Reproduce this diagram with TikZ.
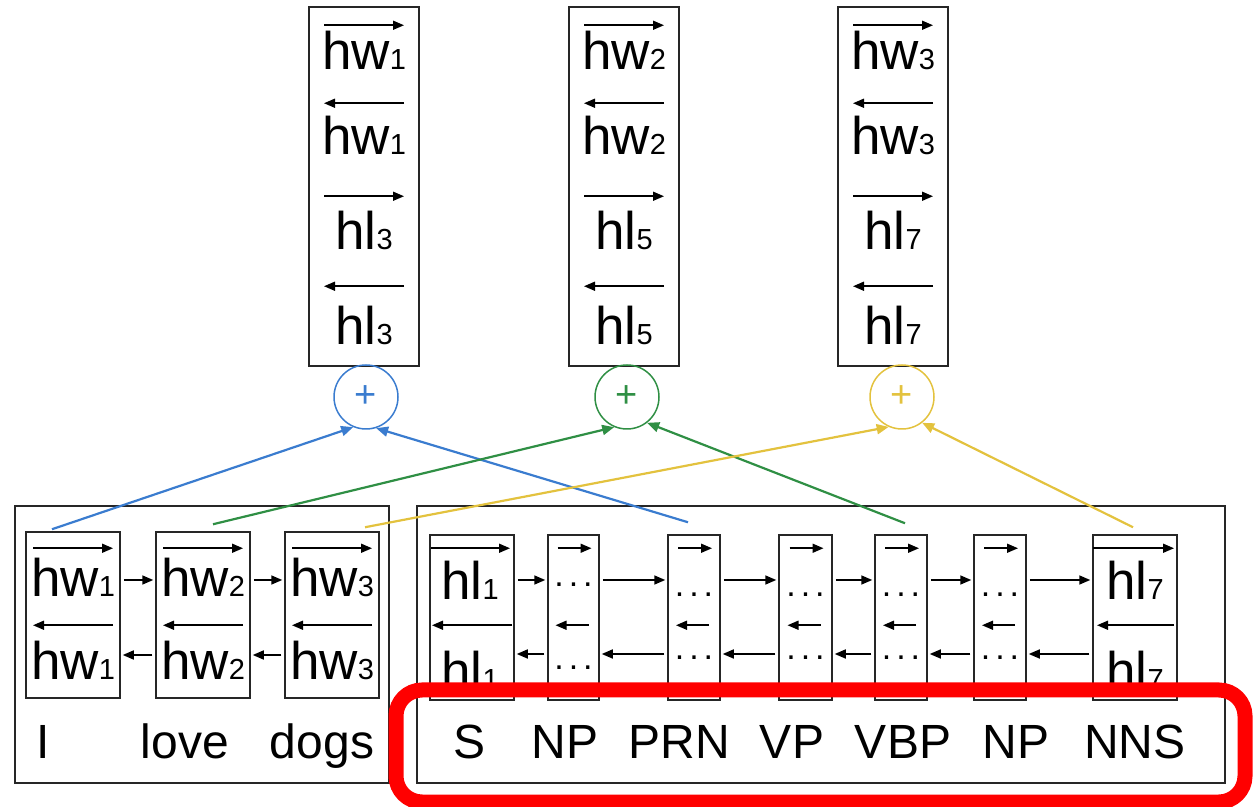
\documentclass[tikz,border=0pt]{standalone}
\usepackage{fontspec}
\setmainfont{Liberation Sans}
\usetikzlibrary{arrows.meta}
\definecolor{sumblue}{HTML}{3A7CCF}
\definecolor{sumgreen}{HTML}{2F8F44}
\definecolor{sumyellow}{HTML}{E3C23E}
\newcommand{\dg}[1]{{\fontsize{29}{29}\selectfont #1}}
\newcommand{\dotrow}{.\hspace{5pt}.\hspace{5pt}.}
\tikzset{
    box/.style={draw=black!85, line width=1.5pt, inner sep=0pt},
    tip/.style={-{Triangle[length=11pt,width=9pt]}, line width=1.6pt},
    link/.style={tip, shorten <=3pt, shorten >=2pt},
    hname/.style={font=\fontsize{53}{53}\selectfont, inner sep=0pt, anchor=base},
    tag/.style={font=\fontsize{48}{48}\selectfont, inner sep=0pt, anchor=base},
    dots/.style={font=\fontsize{34}{34}\selectfont, inner sep=0pt, anchor=base},
    sum/.style={circle, draw=#1, text=#1, line width=1.5pt, minimum size=64pt, inner sep=0pt, font=\fontsize{38}{38}\selectfont},
    feed/.style={draw=#1, -{Triangle[length=12pt,width=10pt]}, line width=2.2pt},
}
\begin{document}
\begin{tikzpicture}[x=1pt, y=1pt]
    \useasboundingbox (0,0) rectangle (1253,806);
    % Concatenated vectors and sums
    \foreach \x/\cx/\w/\l/\c [count=\i] in {364/366/1/3/sumblue, 624/627/2/5/sumgreen, 893/902/3/7/sumyellow} {
        \node [box, minimum width=110pt, minimum height=359pt] (vec\i) at (\x, 619.5) {};
        \node [hname] (fw\i) at (\x, 736) {hw\dg{\w}};
        \node [hname] (bw\i) at (\x, 651) {hw\dg{\w}};
        \node [hname] (fl\i) at (\x, 556) {hl\dg{\l}};
        \node [hname] (bl\i) at (\x, 461) {hl\dg{\l}};
        \foreach \dy/\s in {-19/1, -97/-1, -190/1, -280/-1}
            \draw [tip] ([xshift={-40pt*\s}, yshift=\dy pt]vec\i.north) -- ([xshift={40pt*\s}, yshift=\dy pt]vec\i.north);
        \node [sum=\c] (sum\i) at (\cx, 409) {+};
    }
    % Word encoder
    \node [box, minimum width=374pt, minimum height=277pt] (words) at (202, 161.5) {};
    \foreach \x/\n [count=\i] in {73/1, 203/2, 332/3} {
        \node [box, minimum width=94pt, minimum height=166pt] (w\i) at (\x, 191) {};
        \node [hname] at (\x, 209) {hw\dg{\n}};
        \node [hname] at (\x, 126) {hw\dg{\n}};
        \draw [tip] ([xshift=-40pt, yshift=-17pt]w\i.north) -- ([xshift=40pt, yshift=-17pt]w\i.north);
        \draw [tip] ([xshift=40pt, yshift=-94pt]w\i.north) -- ([xshift=-40pt, yshift=-94pt]w\i.north);
    }
    \foreach \i/\j in {1/2, 2/3} {
        \draw [link] ([yshift=35pt]w\i.east) -- ([yshift=35pt]w\j.west);
        \draw [link] ([yshift=-40pt]w\j.west) -- ([yshift=-40pt]w\i.east);
    }
    \node [tag] (word1) at (43, 48) {I};
    \node [tag] (word2) at (185, 48) {love};
    \node [tag] (word3) at (322, 48) {dogs};
    % Label encoder
    \node [box, minimum width=808pt, minimum height=277pt] (labels) at (821, 161.5) {};
    \foreach \x/\w [count=\i] in {472/84, 573.5/51, 694/52, 805.5/53, 901/52, 1000/52, 1135/84}
        \node [box, minimum width=\w pt, minimum height=165pt] (c\i) at (\x, 188.5) {};
    \foreach \i/\j in {1/2, 2/3, 3/4, 4/5, 5/6, 6/7} {
        \draw [link] ([yshift=37.5pt]c\i.east) -- ([yshift=37.5pt]c\j.west);
        \draw [link] ([yshift=-36.5pt]c\j.west) -- ([yshift=-36.5pt]c\i.east);
    }
    \node [hname] at (470, 206) {hl\dg{1}};
    \node [hname] at (470, 116) {hl\dg{1}};
    \node [hname] at (1135, 206) {hl\dg{7}};
    \node [hname] at (1135, 116) {hl\dg{7}};
    \draw [tip] ([xshift=-41pt, yshift=-14pt]c1.north) -- ([xshift=38pt, yshift=-14pt]c1.north);
    \draw [tip] ([xshift=40pt, yshift=-91pt]c1.north) -- ([xshift=-40pt, yshift=-91pt]c1.north);
    \draw [tip] ([xshift=-42pt, yshift=-14pt]c7.north) -- ([xshift=39pt, yshift=-14pt]c7.north);
    \draw [tip] ([xshift=39pt, yshift=-91pt]c7.north) -- ([xshift=-38pt, yshift=-91pt]c7.north);
    \foreach \i/\ya/\yb in {2/219/136, 3/209/146, 4/209/146, 5/209/146, 6/209/146} {
        \draw [tip] ([xshift=-16pt, yshift=-14pt]c\i.north) -- ([xshift=18pt, yshift=-14pt]c\i.north);
        \draw [tip] ([xshift=15pt, yshift=-91pt]c\i.north) -- ([xshift=-18pt, yshift=-91pt]c\i.north);
        \node [dots] at (c\i |- 0,\ya) {\dotrow};
        \node [dots] at (c\i |- 0,\yb) {\dotrow};
    }
    \foreach \x/\t [count=\i] in {470/S, 565/NP, 679/PRN, 792/VP, 903/VBP, 1016/NP, 1135/NNS}
        \node [tag] (tag\i) at (\x, 48) {\t};
    % Feeds into the sums
    \draw [feed=sumblue] ([xshift=-21pt, yshift=2pt]w1.north) -- (sum1.-113);
    \draw [feed=sumblue] ([xshift=-6pt, yshift=12pt]c3.north) -- (sum1.-72);
    \draw [feed=sumgreen] ([xshift=10pt, yshift=7pt]w2.north) -- (sum2.-113);
    \draw [feed=sumgreen] ([xshift=4pt, yshift=11pt]c5.north) -- (sum2.-52);
    \draw [feed=sumyellow] ([xshift=33pt, yshift=4pt]w3.north) -- (sum3.-114);
    \draw [feed=sumyellow] ([xshift=-2pt, yshift=7pt]c7.north) -- (sum3.-52);
    % Highlight
    \draw [red, line width=15pt, rounded corners=26pt] (396, 4) rectangle (1245, 116);
\end{tikzpicture}
\end{document}
